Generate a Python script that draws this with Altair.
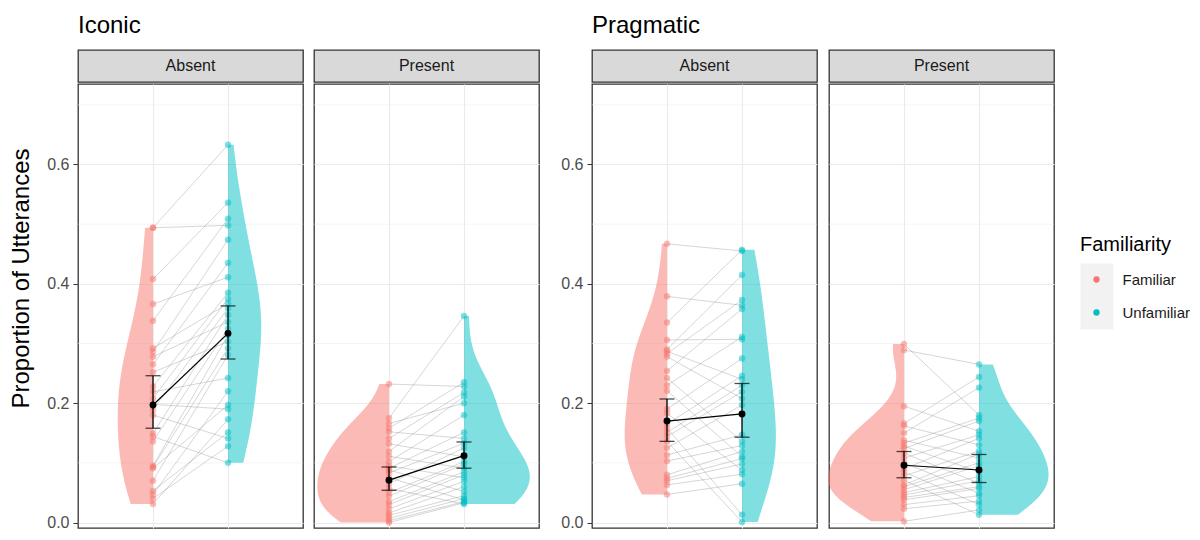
import altair as alt
import numpy as np
import pandas as pd

FONT = "Liberation Sans"
GRID = "#EBEBEB"
BORDER = "#333333"

groups = ["Familiar", "Unfamiliar"]
group_colors = ["#F8766D", "#00BFC4"]
group_pos = [1, 2]

major_breaks = [0.0, 0.2, 0.4, 0.6]
minor_breaks = [0.1, 0.3, 0.5, 0.7]

# ---------------- Iconic / Absent ----------------
ia_familiar = [0.494, 0.494, 0.408, 0.366, 0.338, 0.292, 0.286, 0.278, 0.265, 0.252,
               0.228, 0.219, 0.208, 0.198, 0.189, 0.180, 0.149, 0.144, 0.136, 0.095,
               0.093, 0.091, 0.070, 0.053, 0.047, 0.040, 0.031]
ia_unfamiliar = [0.633, 0.536, 0.509, 0.498, 0.474, 0.435, 0.411, 0.385, 0.375, 0.367,
                 0.359, 0.348, 0.336, 0.325, 0.314, 0.303, 0.292, 0.281, 0.242, 0.220,
                 0.197, 0.190, 0.173, 0.151, 0.141, 0.128, 0.100]
ia_pairing = [0, 3, 1, 6, 2, 9, 4, 12, 5, 15, 7, 18, 8, 21, 10, 24, 11, 26, 13, 14, 16, 20, 17, 23, 19, 25, 22]
ia_mean = [0.197, 0.317]
ia_lo = [0.158, 0.274]
ia_hi = [0.246, 0.363]

# ---------------- Iconic / Present ----------------
ip_familiar = [0.232, 0.175, 0.166, 0.158, 0.152, 0.141, 0.132, 0.119, 0.111, 0.102,
               0.095, 0.091, 0.088, 0.083, 0.075, 0.065, 0.057, 0.050, 0.044, 0.035,
               0.030, 0.023, 0.016, 0.012, 0.007, 0.003, 0.000]
ip_unfamiliar = [0.346, 0.235, 0.228, 0.218, 0.211, 0.200, 0.180, 0.151, 0.141, 0.133,
                 0.125, 0.110, 0.102, 0.098, 0.091, 0.085, 0.080, 0.075, 0.069, 0.060,
                 0.052, 0.045, 0.040, 0.038, 0.035, 0.033, 0.031]
ip_pairing = [2, 0, 5, 1, 8, 3, 11, 4, 14, 6, 17, 7, 20, 9, 23, 10, 26, 12, 13, 15, 16, 18, 19, 21, 22, 24, 25]
ip_mean = [0.071, 0.112]
ip_lo = [0.054, 0.091]
ip_hi = [0.093, 0.135]

# ---------------- Pragmatic / Absent ----------------
pa_familiar = [0.467, 0.379, 0.335, 0.306, 0.290, 0.287, 0.283, 0.278, 0.254, 0.242,
               0.230, 0.221, 0.190, 0.183, 0.165, 0.158, 0.151, 0.144, 0.136, 0.125,
               0.113, 0.103, 0.080, 0.074, 0.070, 0.063, 0.047]
pa_unfamiliar = [0.457, 0.455, 0.415, 0.373, 0.364, 0.358, 0.311, 0.307, 0.275, 0.246,
                 0.240, 0.230, 0.219, 0.208, 0.197, 0.147, 0.136, 0.129, 0.119, 0.110,
                 0.107, 0.098, 0.088, 0.081, 0.065, 0.013, 0.001]
pa_pairing = [1, 4, 0, 7, 2, 10, 3, 13, 5, 16, 6, 19, 8, 22, 9, 25, 11, 12, 26, 14, 15, 17, 18, 20, 21, 23, 24]
pa_mean = [0.170, 0.182]
pa_lo = [0.136, 0.143]
pa_hi = [0.207, 0.233]

# ---------------- Pragmatic / Present ----------------
pp_familiar = [0.299, 0.289, 0.195, 0.166, 0.162, 0.150, 0.138, 0.133, 0.128, 0.124,
               0.116, 0.108, 0.100, 0.090, 0.085, 0.078, 0.071, 0.063, 0.060, 0.055,
               0.050, 0.046, 0.042, 0.038, 0.030, 0.023, 0.002]
pp_unfamiliar = [0.265, 0.244, 0.226, 0.180, 0.175, 0.170, 0.153, 0.147, 0.141, 0.130,
                 0.120, 0.115, 0.108, 0.100, 0.095, 0.085, 0.077, 0.070, 0.066, 0.060,
                 0.057, 0.049, 0.045, 0.036, 0.030, 0.021, 0.013]
pp_pairing = [3, 0, 6, 1, 9, 2, 12, 4, 15, 5, 18, 7, 21, 8, 24, 10, 26, 11, 13, 14, 16, 17, 19, 20, 22, 23, 25]
pp_mean = [0.096, 0.088]
pp_lo = [0.075, 0.067]
pp_hi = [0.119, 0.114]

# ---------------- layout constants ----------------
PANEL_W = 225
PANEL_H = 444
STRIP_H = 32
TITLE_H = 41
Y_DOMAIN = [-0.0092, 0.7349]
X_DOMAIN = [0, 3]
K = 0.18      # violin half-width (x units) per unit of density
BW_ADJ = 1.25  # bandwidth adjustment on top of nrd0


def nrd0(vals):
    v = np.asarray(vals, dtype=float)
    sd = v.std(ddof=1)
    q75, q25 = np.percentile(v, [75, 25])
    lo = min(sd, (q75 - q25) / 1.34) if (q75 - q25) > 0 else sd
    return float(0.9 * lo * len(v) ** (-0.2))


def make_panel(fam, unf, pairing, mean, lo, hi, axis_mode):
    n = len(fam)
    pts = pd.DataFrame({
        "pid": list(range(n)) * 2,
        "Familiarity": ["Familiar"] * n + ["Unfamiliar"] * n,
        "pos": [group_pos[0]] * n + [group_pos[1]] * n,
        "value": list(fam) + [unf[pairing[i]] for i in range(n)],
    })
    summ = pd.DataFrame({"Familiarity": groups, "pos": group_pos,
                         "mean": mean, "lo": lo, "hi": hi})

    xs = alt.Scale(domain=X_DOMAIN, nice=False, zero=False)
    xa = alt.Axis(values=group_pos, labels=False, ticks=False, domain=False,
                  title=None, grid=True, gridColor=GRID, gridWidth=1.1)
    ys = alt.Scale(domain=Y_DOMAIN, nice=False, zero=False)
    if axis_mode == "none":
        ya = alt.Axis(values=major_breaks, labels=False, ticks=False, domain=False,
                      grid=True, gridColor=GRID, gridWidth=1.1, title=None)
    elif axis_mode == "labels":
        ya = alt.Axis(values=major_breaks, format=".1f", labelFontSize=16,
                      labelFont=FONT, labelColor="#4D4D4D", labelPadding=4,
                      tickSize=5, tickColor=BORDER, tickWidth=1, domain=False,
                      grid=True, gridColor=GRID, gridWidth=1.1, title=None)
    else:
        ya = alt.Axis(values=major_breaks, format=".1f", labelFontSize=16,
                      labelFont=FONT, labelColor="#4D4D4D", labelPadding=4,
                      tickSize=5, tickColor=BORDER, tickWidth=1, domain=False,
                      grid=True, gridColor=GRID, gridWidth=1.1,
                      title="Proportion of Utterances",
                      titleFont=FONT, titleFontSize=24, titleFontWeight="normal",
                      titleColor="black", titlePadding=13, titleY=194)

    def X(f):
        return alt.X(f, type="quantitative", scale=xs, axis=xa)

    def Y(f):
        return alt.Y(f, type="quantitative", scale=ys, axis=ya)

    colour = alt.Color("Familiarity:N",
                       scale=alt.Scale(domain=groups, range=group_colors), legend=None)

    layers = [
        alt.Chart(pd.DataFrame({"m": minor_breaks}))
        .mark_rule(color=GRID, strokeWidth=0.55)
        .encode(y=Y("m"))
    ]
    for g, vals, side, base, col in zip(groups, [fam, unf], [-1, 1], group_pos, group_colors):
        bw = nrd0(vals) * BW_ADJ
        layers.append(
            alt.Chart(pts)
            .transform_filter(alt.datum.Familiarity == g)
            .transform_density("value", as_=["value", "density"], bandwidth=bw, steps=200)
            .transform_calculate(edge=f"{base} + {side} * datum.density * {K}",
                                 base=f"{base}")
            .mark_area(orient="horizontal", color=col, opacity=0.5)
            .encode(y=Y("value"), x=X("edge"), x2=alt.X2("base"))
        )
    layers.append(
        alt.Chart(pts).mark_line(color="#808080", strokeWidth=0.6, opacity=0.55)
        .encode(x=X("pos"), y=Y("value"), detail="pid:N")
    )
    layers.append(
        alt.Chart(pts).mark_circle(size=36, opacity=0.5, strokeWidth=0.8, strokeOpacity=0.7)
        .encode(x=X("pos"), y=Y("value"), color=colour, stroke=colour)
    )
    layers.append(
        alt.Chart(summ).mark_line(color="black", strokeWidth=1.2)
        .encode(x=X("pos"), y=Y("mean"))
    )
    layers.append(
        alt.Chart(summ).mark_rule(color="black", strokeWidth=1.3)
        .encode(x=X("pos"), y=Y("lo"), y2=alt.Y2("hi"))
    )
    for f in ["lo", "hi"]:
        layers.append(
            alt.Chart(summ).mark_tick(orient="horizontal", size=15, thickness=1.3, color="black")
            .encode(x=X("pos"), y=Y(f))
        )
    layers.append(
        alt.Chart(summ).mark_circle(size=48, color="black", opacity=1)
        .encode(x=X("pos"), y=Y("mean"))
    )
    return alt.layer(*layers).properties(
        width=PANEL_W, height=PANEL_H,
        view=alt.ViewBackground(fill="white", stroke=BORDER, strokeWidth=1.3))


def title_chart(text):
    return (alt.Chart(pd.DataFrame({"t": [text]}))
            .mark_text(align="left", baseline="alphabetic", fontSize=24, font=FONT, color="black")
            .encode(text="t:N", x=alt.value(0), y=alt.value(25))
            .properties(width=PANEL_W, height=TITLE_H,
                        view=alt.ViewBackground(strokeOpacity=0)))


def strip_chart(label):
    return (alt.Chart(pd.DataFrame({"label": [label]}))
            .mark_text(fontSize=16, font=FONT, color="#1A1A1A")
            .encode(text="label:N")
            .properties(width=PANEL_W, height=STRIP_H,
                        view=alt.ViewBackground(fill="#D9D9D9", stroke=BORDER, strokeWidth=1.3)))


def column(title_text, strip_label, panel):
    return alt.vconcat(title_chart(title_text), strip_chart(strip_label), panel, spacing=0)


col_ia = column("Iconic", "Absent",
                make_panel(ia_familiar, ia_unfamiliar, ia_pairing, ia_mean, ia_lo, ia_hi, "title"))
col_ip = column("", "Present",
                make_panel(ip_familiar, ip_unfamiliar, ip_pairing, ip_mean, ip_lo, ip_hi, "none"))
col_pa = column("Pragmatic", "Absent",
                make_panel(pa_familiar, pa_unfamiliar, pa_pairing, pa_mean, pa_lo, pa_hi, "labels"))
col_pp = column("", "Present",
                make_panel(pp_familiar, pp_unfamiliar, pp_pairing, pp_mean, pp_lo, pp_hi, "none"))

# ---------------- legend ----------------
spacer = (alt.Chart(pd.DataFrame({"a": [0]})).mark_point(opacity=0)
          .properties(width=33, height=227, view=alt.ViewBackground(strokeOpacity=0)))
legend_box = (alt.Chart(pd.DataFrame({"Familiarity": groups}))
              .mark_circle(size=40, opacity=1)
              .encode(
                  y=alt.Y("Familiarity:N",
                          scale=alt.Scale(domain=groups, paddingInner=0, paddingOuter=0),
                          axis=alt.Axis(orient="right", title=None, ticks=False, domain=False,
                                        grid=False, labelFontSize=15, labelFont=FONT,
                                        labelColor="#1A1A1A", labelPadding=9)),
                  color=alt.Color("Familiarity:N",
                                  scale=alt.Scale(domain=groups, range=group_colors), legend=None))
              .properties(width=33, height=66,
                          view=alt.ViewBackground(fill="#F2F2F2", strokeOpacity=0),
                          title=alt.TitleParams("Familiarity", anchor="start", fontSize=20,
                                                font=FONT, fontWeight="normal", color="black",
                                                offset=8)))
legend_col = alt.vconcat(spacer, legend_box, spacing=0)

chart = alt.hconcat(
    alt.hconcat(
        alt.hconcat(col_ia, col_ip, spacing=9),
        alt.hconcat(col_pa, col_pp, spacing=9),
        spacing=20),
    legend_col,
    spacing=25,
).properties(
    padding={"left": 1, "top": 0, "right": 0, "bottom": 0},
    background="white",
).configure(font=FONT)

chart.save("out.html", embed_options={"renderer": "svg", "actions": False})
